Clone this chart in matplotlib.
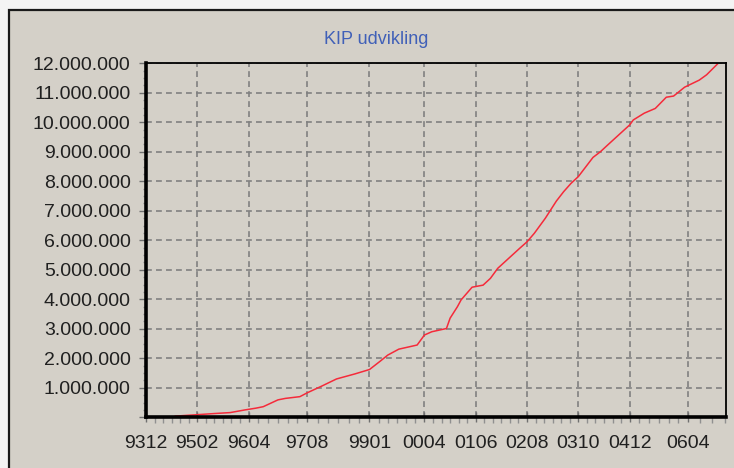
import numpy as np
import matplotlib
matplotlib.use("Agg")
import matplotlib.pyplot as plt
from matplotlib.patches import Rectangle
from matplotlib.ticker import FuncFormatter, AutoMinorLocator, FixedLocator

plt.rcParams['font.family'] = ['Liberation Sans', 'DejaVu Sans']

# KIP development, month stamps (YYYY-MM) and value
months = ["1994-08", "1995-07", "1995-11", "1996-03", "1996-06", "1996-08",
          "1996-12", "1997-02", "1997-06", "1997-08", "1997-12", "1998-04",
          "1998-09", "1999-01", "1999-04", "1999-06", "1999-09", "2000-02",
          "2000-04", "2000-06", "2000-10", "2000-11", "2001-01", "2001-02",
          "2001-05", "2001-08", "2001-10", "2001-12", "2002-03", "2002-06",
          "2002-08", "2002-10", "2003-01", "2003-04", "2003-06", "2003-08",
          "2003-10", "2004-02", "2004-04", "2004-06", "2004-09", "2004-12",
          "2005-01", "2005-04", "2005-07", "2005-10", "2005-12", "2006-03",
          "2006-07", "2006-09", "2006-12"]
kip = [40000, 130000, 160000, 250000, 310000, 360000,
       590000, 640000, 700000, 830000, 1060000, 1300000,
       1470000, 1620000, 1910000, 2110000, 2310000, 2450000,
       2790000, 2900000, 3010000, 3360000, 3750000, 3980000,
       4410000, 4480000, 4710000, 5050000, 5390000, 5730000,
       5950000, 6240000, 6750000, 7330000, 7650000, 7930000,
       8160000, 8810000, 9000000, 9230000, 9570000, 9910000,
       10080000, 10310000, 10470000, 10850000, 10890000, 11190000,
       11430000, 11610000, 11980000]
tick_labels = ["9312", "9502", "9604", "9708", "9901", "0004",
               "0106", "0208", "0310", "0412", "0604"]


def month_index(y, m):
    # months since Dec 1993
    return (y - 1993) * 12 + (m - 12)


x = [month_index(int(s[:4]), int(s[5:])) for s in months]
tick_pos = []
for lab in tick_labels:
    yy = int(lab[:2])
    yy += 1900 if yy > 50 else 2000
    tick_pos.append(month_index(yy, int(lab[2:])))

minor_pos = []
for a, b in zip(tick_pos[:-1], tick_pos[1:]):
    minor_pos += list(np.linspace(a, b, 7)[1:-1])
minor_pos += [tick_pos[-1] + 3.3 * k for k in (1, 2, 3)]

bg = "#d4d0c8"
fig = plt.figure(figsize=(7.34, 4.68), dpi=100, facecolor="#f4f4f4")
fig.patches.append(Rectangle((9 / 734, -0.1), 1.2, 1 - 10 / 468 + 0.1,
                             transform=fig.transFigure, facecolor=bg,
                             edgecolor="#1a1a1a", linewidth=1.6, zorder=-5))

ax = fig.add_axes([146 / 734, 1 - 417.3 / 468, 580 / 734, (417.3 - 63.3) / 468])
ax.set_zorder(2)
ax.set_facecolor(bg)

ax.plot(x, kip, color="#f52a3a", linewidth=1.1, zorder=3)

ax.set_xlim(0, 158.3)
ax.set_ylim(0, 12000000)
ax.xaxis.set_major_locator(FixedLocator(tick_pos))
ax.set_xticklabels(tick_labels)
ax.xaxis.set_minor_locator(FixedLocator(minor_pos))
ax.set_yticks(np.arange(0, 12000001, 1000000))
ax.yaxis.set_minor_locator(AutoMinorLocator(4))
ax.yaxis.set_major_formatter(FuncFormatter(
    lambda v, p: "" if v == 0 else f"{int(v):,}".replace(",", ".")))

ax.grid(True, which="major", color="#808080", linestyle=(0, (3.5, 2.5)),
        linewidth=1.2, zorder=1)

for side in ("top", "right"):
    ax.spines[side].set_linewidth(1.3)
for side in ("left", "bottom"):
    ax.spines[side].set_linewidth(2.6)
for sp in ax.spines.values():
    sp.set_color("black")
    sp.set_zorder(4)

ax.tick_params(axis="x", which="major", length=7, width=1, color="#707070",
               pad=9, labelsize=14, labelcolor="#202020", direction="inout")
ax.tick_params(axis="x", which="minor", length=4, width=1, color="#909090",
               direction="out")
ax.tick_params(axis="y", which="major", length=5, width=1, color="#707070",
               pad=6, labelsize=14, labelcolor="#202020")
ax.tick_params(axis="y", which="minor", length=2.5, width=1, color="#909090")

fig.text(376 / 734, 1 - 40 / 468, "KIP udvikling", color="#4060b8",
         fontsize=13, ha="center", va="center")

fig.savefig("out.png", dpi=100, facecolor=fig.get_facecolor())
